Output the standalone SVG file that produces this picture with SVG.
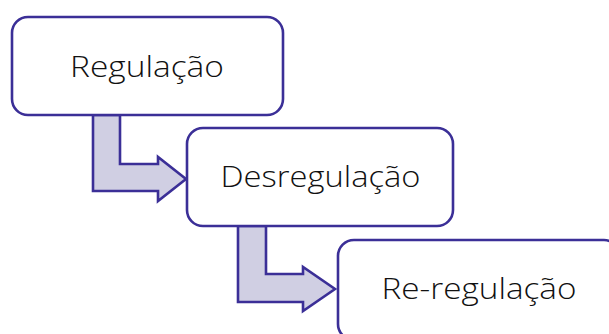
<svg xmlns="http://www.w3.org/2000/svg" width="609" height="334" viewBox="0 0 609 334">
<style>
.box{fill:#ffffff;stroke:#3b2f97;stroke-width:2.6}
.arr{fill:#d0cfe3;stroke:#3b2f97;stroke-width:2.6;stroke-linejoin:miter}
.lbl{font-family:"Open Sans","Noto Sans",sans-serif;font-weight:300;font-size:30px;fill:#111111;text-anchor:middle}
</style>
<rect width="609" height="334" fill="#ffffff"/>
<g id="connectors">
<polygon class="arr" points="93,115 120,115 120,164 158,164 158,157 186,179 158,201 158,191 93,191"/>
<polygon class="arr" points="238,226 266,226 266,274 303,274 303,267 335,289 303,311 303,302 238,302"/>
</g>
<g id="node-regulacao">
<rect class="box" x="12" y="17" width="271" height="98" rx="16"/>
<text class="lbl" x="147" y="76.5" textLength="154" lengthAdjust="spacingAndGlyphs">Regulação</text>
</g>
<g id="node-desregulacao">
<rect class="box" x="187" y="128" width="266" height="98" rx="16"/>
<text class="lbl" x="320.5" y="187" textLength="200" lengthAdjust="spacingAndGlyphs">Desregulação</text>
</g>
<g id="node-reregulacao">
<rect class="box" x="338" y="240" width="282" height="100" rx="16"/>
<text class="lbl" x="479" y="299" textLength="195" lengthAdjust="spacingAndGlyphs">Re-regulação</text>
</g>
</svg>
